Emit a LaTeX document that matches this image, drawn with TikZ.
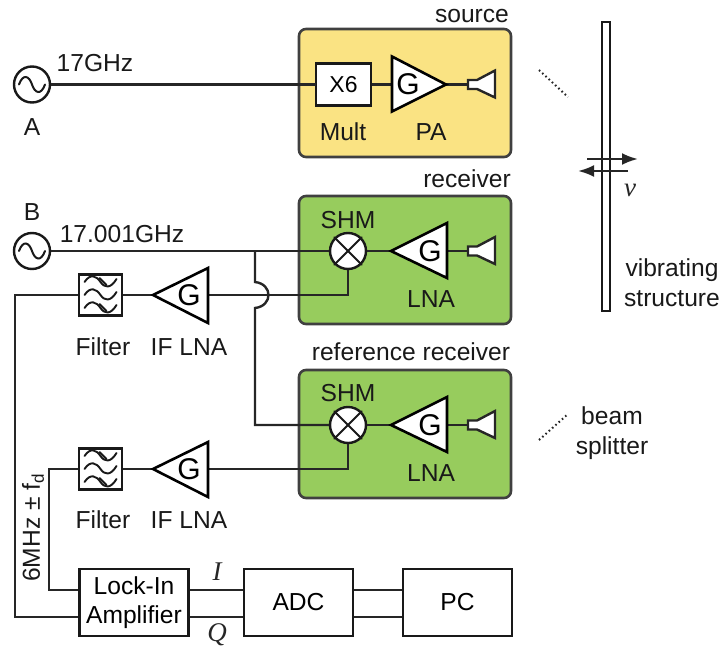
\documentclass[tikz,border=0pt]{standalone}
\usepackage{fontspec}
\setmainfont{Liberation Sans}
\newfontfamily\serfont{Liberation Serif}
\usetikzlibrary{arrows.meta,calc}
\definecolor{wire}{HTML}{262626}
\definecolor{srcfill}{HTML}{FAE383}
\definecolor{rcvfill}{HTML}{97CC5D}
\tikzset{
  x=1pt,y=-1pt,
  wireline/.style={draw=wire,line width=2.4pt,line join=miter},
  lbl/.style={anchor=base,inner sep=0pt,outer sep=0pt,text=black!90,font=\fontsize{24.6}{27}\selectfont},
  ital/.style={inner sep=0pt,text=black!85,font=\fontsize{27}{30}\selectfont\serfont\itshape},
  group/.style={draw=black!75,line width=2.6pt,rounded corners=7pt,minimum width=212pt,minimum height=128pt,inner sep=0pt},
  blockbox/.style={draw=black!90,fill=white,line width=2.6pt,minimum width=109pt,minimum height=67pt,inner sep=0pt,align=center,font=\fontsize{24.6}{29}\selectfont},
  filterbox/.style={draw=black!90,fill=white,line width=2.4pt,minimum width=43pt,minimum height=41pt,inner sep=0pt},
  roundel/.style={circle,draw=black!90,fill=white,line width=2.4pt,minimum size=36pt,inner sep=0pt},
  ampl/.style={draw=black,fill=white,line width=2.6pt,line join=miter},
  horn/.style={draw=black!85,fill=white,line width=2.4pt,line join=miter},
  glyph/.style={draw=black!90,line width=2pt,line cap=round},
  gletter/.style={inner sep=0pt,font=\fontsize{30}{31}\selectfont},
  motion/.style={draw=wire,line width=2.4pt,-{Latex[length=16pt,width=12pt]}},
  dots/.style={draw=black!85,line width=2pt,dash pattern=on 1.6pt off 2.8pt}
}
\newcommand{\sinewave}[1]{%
  \draw[glyph] ($(#1)+(-13,0)$) .. controls ($(#1)+(-9,-11)$) and ($(#1)+(-3,-9)$) .. (#1)
     .. controls ($(#1)+(3,9)$) and ($(#1)+(9,11)$) .. ($(#1)+(13,0)$);}
\newcommand{\filterwaves}[1]{%
  \foreach \dy in {-13,0,13}{%
    \draw[black!90,line width=1.9pt,line cap=round] ($(#1)+(-16,\dy)$) .. controls ($(#1)+(-10,\dy-9)$) and ($(#1)+(-4,\dy-6)$) .. ($(#1)+(0,\dy)$)
      .. controls ($(#1)+(4,\dy+6)$) and ($(#1)+(10,\dy+7)$) .. ($(#1)+(16,\dy-3)$);}
  \draw[black!90,line width=1.9pt,line cap=round] ($(#1)+(-1,-17)$) -- ($(#1)+(6,-10)$);
  \draw[black!90,line width=1.9pt,line cap=round] ($(#1)+(-1,9)$) -- ($(#1)+(6,16)$);}
\newcommand{\hornat}[2]{% anchor name, y
  \coordinate (#1) at (468,#2);
  \draw[horn] (468,#2-4.5) -- (477,#2-4.5) -- (495,#2-14) -- (495,#2+13) -- (477,#2+4.5) -- (468,#2+4.5) -- cycle;}
\begin{document}
\begin{tikzpicture}
\useasboundingbox (0,0) rectangle (720,648);
% groups
\node[group,fill=srcfill] (srcgroup) at (405,93) {};
\node[group,fill=rcvfill] (rcvgroup) at (405,260) {};
\node[group,fill=rcvfill] (refgroup) at (405,434) {};
% named points
\coordinate (hopA) at (255,282);
\coordinate (hopB) at (255,308);
\coordinate (tapB) at (255,251);
\coordinate (tapC) at (255,425);
\coordinate (leftA) at (15,295);
\coordinate (leftB) at (15,617);
\coordinate (midA) at (49,469);
\coordinate (midB) at (49,590);
\coordinate (multin) at (316,84.5);
% components with nodes
\node[roundel] (oscA) at (32,84.5) {};
\node[roundel] (oscB) at (32,251) {};
\node[draw=black!90,fill=white,line width=2.4pt,minimum width=55pt,minimum height=42pt,inner sep=0pt,font=\fontsize{23}{24}\selectfont] (mult) at (343.5,84.5) {X6};
\node[roundel] (mixA) at (348,251) {};
\node[roundel] (mixB) at (348,425) {};
\node[filterbox] (filtA) at (100.5,295) {};
\node[filterbox] (filtB) at (100.5,469) {};
\node[blockbox] (lock) at (134,602.5) {Lock-In\\Amplifier};
\node[blockbox] (adc) at (298.5,602.5) {ADC};
\node[blockbox] (pc) at (457.5,602.5) {PC};
% amplifier reference points
\coordinate (paIn) at (392,84.5);  \coordinate (paOut) at (446,84.5);
\coordinate (lnaAtip) at (391,251); \coordinate (lnaAbase) at (447,251);
\coordinate (lnaBtip) at (391,425); \coordinate (lnaBbase) at (447,425);
\coordinate (ifAtip) at (153,295); \coordinate (ifAbase) at (208,295);
\coordinate (ifBtip) at (153,469); \coordinate (ifBbase) at (208,469);
\coordinate (hornS) at (468,84.5);
\coordinate (hornA) at (468,251);
\coordinate (hornB) at (468,425);
% connectors
\draw[wireline] (oscA.east) -- (multin);
\draw[wireline] (mult) -- (paIn);
\draw[wireline] (paOut) -- (hornS);
\draw[wireline] (oscB.east) -- (mixA.west);
\draw[wireline] (mixA.south) |- (ifAbase);
\draw[wireline] (tapB) -- (hopA) .. controls (273,284) and (273,306) .. (hopB) -- (tapC) -- (mixB.west);
\draw[wireline] (mixB.south) |- (ifBbase);
\draw[wireline] (mixA.east) -- (lnaAtip);
\draw[wireline] (lnaAbase) -- (hornA);
\draw[wireline] (mixB.east) -- (lnaBtip);
\draw[wireline] (lnaBbase) -- (hornB);
\draw[wireline] (ifAtip) -- (filtA.east);
\draw[wireline] (ifBtip) -- (filtB.east);
\draw[wireline] (filtA.west) -- (leftA) -- (leftB) -- (lock.west |- leftB);
\draw[wireline] (filtB.west) -- (midA) -- (midB) -- (lock.west |- midB);
\draw[wireline] (lock.east |- midB) -- (adc.west |- midB);
\draw[wireline] (lock.east |- leftB) -- (adc.west |- leftB);
\draw[wireline] (adc.east |- midB) -- (pc.west |- midB);
\draw[wireline] (adc.east |- leftB) -- (pc.west |- leftB);
% amplifiers
\draw[ampl] (392,56.5) -- (446,84.5) -- (392,111.5) -- cycle;
\draw[ampl] (391,251) -- (447,223) -- (447,278) -- cycle;
\draw[ampl] (391,425) -- (447,397) -- (447,452) -- cycle;
\draw[ampl] (153,295) -- (208,268) -- (208,323) -- cycle;
\draw[ampl] (153,469) -- (208,442) -- (208,497) -- cycle;
\node[gletter] (gpa) at (408,84) {G};
\node[gletter] (glnaA) at (430,251) {G};
\node[gletter] (glnaB) at (430,425) {G};
\node[gletter] (gifA) at (189,295) {G};
\node[gletter] (gifB) at (189,469) {G};
% horns
\hornat{hornS2}{84.5}
\hornat{hornA2}{251}
\hornat{hornB2}{425}
% glyphs
\sinewave{oscA.center}
\sinewave{oscB.center}
\foreach \m in {mixA,mixB}{
  \draw[glyph] (\m.north east) -- (\m.south west);
  \draw[glyph] (\m.north west) -- (\m.south east);
}
\filterwaves{filtA.center}
\filterwaves{filtB.center}
% vibrating structure
\node[draw=black!90,fill=white,line width=2.4pt,minimum width=8pt,minimum height=289pt,inner sep=0pt] (beam) at (606,166.5) {};
\coordinate (mvAa) at (587,159); \coordinate (mvAb) at (638,159);
\coordinate (mvBa) at (628,171); \coordinate (mvBb) at (578,171);
\draw[motion] (mvAa) -- (mvAb);
\draw[motion] (mvBa) -- (mvBb);
\coordinate (dotAa) at (539,70); \coordinate (dotAb) at (568,97);
\coordinate (dotBa) at (539,440); \coordinate (dotBb) at (568,414);
\draw[dots] (dotAa) -- (dotAb);
\draw[dots] (dotBa) -- (dotBb);
% labels
\node[lbl] (tSource) at (472,22) {source};
\node[lbl] (tReceiver) at (467,187) {receiver};
\node[lbl] (tRef) at (411,360) {reference receiver};
\node[lbl] (tA) at (32,135) {A};
\node[lbl] (tB) at (32,220) {B};
\node[lbl] (t17) at (95,71) {17GHz};
\node[lbl] (t17b) at (122,242) {17.001GHz};
\node[lbl] (tMult) at (343,140) {Mult};
\node[lbl] (tPA) at (431,140) {PA};
\node[lbl] (tSHMa) at (348,228) {SHM};
\node[lbl] (tSHMb) at (348,401) {SHM};
\node[lbl] (tLNAa) at (431,307) {LNA};
\node[lbl] (tLNAb) at (431,481) {LNA};
\node[lbl] (tFa) at (103,355) {Filter};
\node[lbl] (tFb) at (103,528) {Filter};
\node[lbl] (tIFa) at (189,355) {IF LNA};
\node[lbl] (tIFb) at (189,528) {IF LNA};
\node[lbl] (tVib) at (672,276) {vibrating};
\node[lbl] (tStr) at (672,306) {structure};
\node[lbl] (tBeam) at (612,424) {beam};
\node[lbl] (tSpl) at (612,454) {splitter};
\node[lbl,rotate=90,anchor=center] (tFreq) at (33,528) {6MHz ± f\raisebox{-4pt}{\fontsize{17}{18}\selectfont d}};
\node[ital] (tI) at (217,572) {I};
\node[ital] (tQ) at (217,635) {Q};
\node[ital] (tNu) at (630,190) {v};
\end{tikzpicture}
\end{document}
